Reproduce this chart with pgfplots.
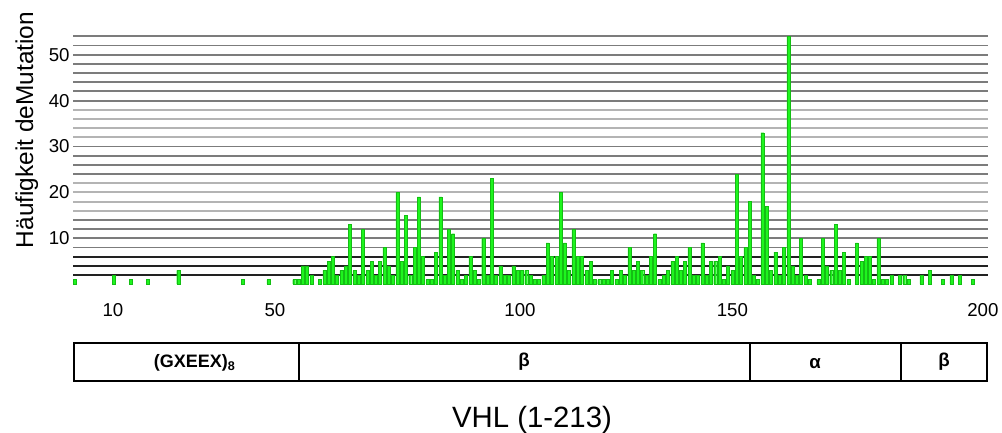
\documentclass[border=0pt]{standalone}
\usepackage{pgfplots}
\pgfplotsset{compat=1.18}
\usepackage{fontspec}
\setmainfont{Liberation Sans}
\definecolor{gdark}{HTML}{222222}
\definecolor{gmid}{HTML}{7C7C7C}
\definecolor{glight}{HTML}{B4B4B4}
\definecolor{barfill}{RGB}{30,245,30}
\definecolor{baredge}{RGB}{20,190,20}
\begin{document}
\begin{tikzpicture}
\path[use as bounding box] (0,0) rectangle (751.5pt,324pt);
\begin{axis}[
  at={(54.75pt,110.85pt)}, anchor=south west,
  scale only axis, width=686.25pt, height=185.9pt,
  xmin=0.5, xmax=213.5, ymin=0, ymax=54,
  clip=false,
  axis line style={draw=none},
  major tick length=0pt,
  xtick={9.81,47.5,104.55,154.0,212.3},
  xticklabels={10,50,100,150,200},
  ytick={10,20,30,40,50},
  tick label style={font=\fontsize{14}{16}\selectfont},
  /pgf/number format/assume math mode=true,
  xticklabel style={yshift=-11pt},
  yticklabel style={xshift=1pt},
]
\pgfplotsinvokeforeach{2,4,6}{\draw[gdark, line width=1.4pt] (axis cs:0.5,#1) -- (axis cs:213.5,#1);}
\pgfplotsinvokeforeach{8,10,12,14,24,26,28,30,40,42,44,46,48,50,52,54}{\draw[gmid, line width=1.4pt] (axis cs:0.5,#1) -- (axis cs:213.5,#1);}
\pgfplotsinvokeforeach{16,18,20,22,32,34,36,38}{\draw[glight, line width=1.4pt] (axis cs:0.5,#1) -- (axis cs:213.5,#1);}
\addplot[ybar, bar width=0.7, fill=barfill, draw=baredge, line width=0.3pt] coordinates {
(1,1) (10,2) (14,1) (18,1) (25,3) (40,1) (46,1) (52,1) (53,1) (54,4) (55,4)
(56,2) (58,1) (59,3) (60,5) (61,6) (62,2) (63,3) (64,4) (65,13) (66,3) (67,2)
(68,12) (69,3) (70,5) (71,2) (72,5) (73,8) (74,4) (75,2) (76,20) (77,5) (78,15)
(79,2) (80,8) (81,19) (82,6) (83,1) (84,1) (85,7) (86,19) (87,2) (88,12) (89,11)
(90,3) (91,1) (92,2) (93,6) (94,3) (95,1) (96,10) (97,2) (98,23) (99,2) (100,4)
(101,2) (102,2) (103,4) (104,3) (105,3) (106,3) (107,2) (108,1) (109,1) (110,2)
(111,9) (112,6) (113,6) (114,20) (115,9) (116,3) (117,12) (118,6) (119,6) (120,3)
(121,5) (122,1) (123,1) (124,1) (125,1) (126,3) (127,1) (128,3) (129,2) (130,8)
(131,3) (132,5) (133,3) (134,2) (135,6) (136,11) (137,1) (138,2) (139,3) (140,5)
(141,6) (142,3) (143,5) (144,8) (145,2) (146,2) (147,9) (148,2) (149,5) (150,5)
(151,6) (152,1) (153,4) (154,3) (155,24) (156,6) (157,8) (158,18) (159,2) (160,1)
(161,33) (162,17) (163,3) (164,7) (165,2) (166,8) (167,54) (168,4) (169,2) (170,10)
(171,2) (172,1) (174,1) (175,10) (176,4) (177,3) (178,13) (179,3) (180,7) (181,1)
(183,9) (184,5) (185,6) (186,6) (187,1) (188,10) (189,1) (190,1) (191,2) (193,2)
(194,2) (195,1) (198,2) (200,3) (203,1) (205,2) (207,2) (210,1)
};
\end{axis}
\node[rotate=90, anchor=base, font=\fontsize{18.3}{20}\selectfont] at (24.75pt,226.5pt) {Häufigkeit deMutation};
\draw[black, line width=1.1pt] (55.5pt,38.25pt) rectangle (740.25pt,66.75pt);
\draw[black, line width=0.8pt] (224.25pt,38.25pt) -- (224.25pt,66.75pt);
\draw[black, line width=0.8pt] (562.5pt,38.25pt) -- (562.5pt,66.75pt);
\draw[black, line width=0.8pt] (675.75pt,38.25pt) -- (675.75pt,66.75pt);
\node[font=\bfseries\fontsize{13.5}{15}\selectfont] at (146pt,52pt) {(GXEEX)\textsubscript{8}};
\node[font=\bfseries\fontsize{14}{16}\selectfont] at (393pt,53pt) {β};
\node[font=\bfseries\fontsize{14}{16}\selectfont] at (611.25pt,51.5pt) {α};
\node[font=\bfseries\fontsize{14}{16}\selectfont] at (708pt,53pt) {β};
\node[font=\fontsize{22}{26}\selectfont] at (399pt,9pt) {VHL (1-213)};
\end{tikzpicture}
\end{document}
